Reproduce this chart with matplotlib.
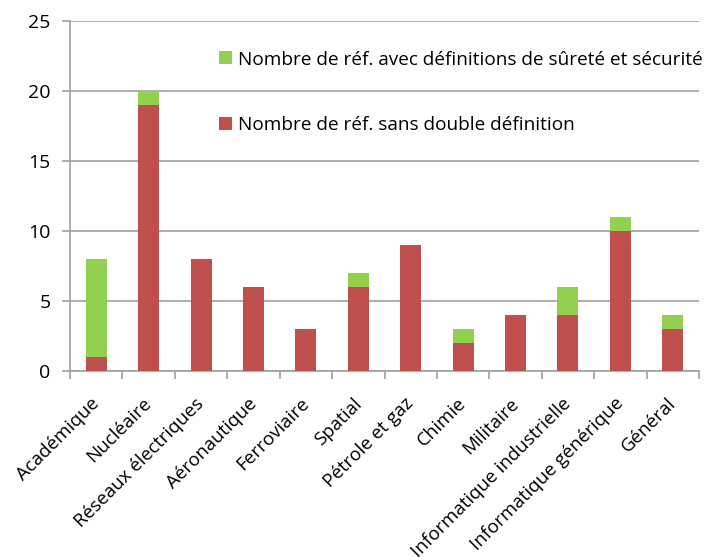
import numpy as np
import matplotlib
matplotlib.use("Agg")
import matplotlib.pyplot as plt
import matplotlib.transforms as mtransforms

categories = ["Académique", "Nucléaire", "Réseaux électriques", "Aéronautique",
              "Ferroviaire", "Spatial", "Pétrole et gaz", "Chimie", "Militaire",
              "Informatique industrielle", "Informatique générique", "Général"]
sans_double = [1, 19, 8, 6, 3, 6, 9, 2, 4, 4, 10, 3]
avec_def = [7, 1, 0, 0, 0, 1, 0, 1, 0, 2, 1, 1]
yticks = [0, 5, 10, 15, 20, 25]

plt.rcParams['font.family'] = ['Open Sans', 'DejaVu Sans']

fig = plt.figure(figsize=(7.07, 5.57), dpi=100)
ax = fig.add_axes([0.099, 0.334, 0.8897, 0.628])

x = np.arange(len(categories))
red = ax.bar(x, sans_double, width=0.4, color='#C0504D', zorder=3,
             label="Nombre de réf. sans double définition")
green = ax.bar(x, avec_def, width=0.4, bottom=sans_double, color='#92D050', zorder=3,
               label="Nombre de réf. avec définitions de sûreté et sécurité")

ax.set_xlim(-0.5, len(categories) - 0.5)
ax.set_ylim(0, 25)
ax.set_yticks(yticks)
ax.yaxis.grid(True, color='#A0A0A0', linewidth=1.2, zorder=0)
ax.tick_params(axis='y', labelsize=14, length=6, color='#A0A0A0', width=1.2, pad=8)

ax.set_xticks(x)
ax.set_xticklabels(categories, rotation=45, ha='right', rotation_mode='anchor', fontsize=13.5)
ax.tick_params(axis='x', length=0, pad=17)
ax.set_xticks(np.arange(len(categories) + 1) - 0.5, minor=True)
ax.tick_params(axis='x', which='minor', length=6, color='#A0A0A0', width=1.2)

# nudge the rotated labels a little to the left
shift = mtransforms.ScaledTranslation(-6 / 100, 0, fig.dpi_scale_trans)
for lbl in ax.get_xticklabels():
    lbl.set_transform(lbl.get_transform() + shift)

for s in ['top', 'right']:
    ax.spines[s].set_visible(False)
for s in ['left', 'bottom']:
    ax.spines[s].set_color('#A0A0A0')
    ax.spines[s].set_linewidth(1.2)

ax.legend(handles=[green, red], loc='upper left', bbox_to_anchor=(0.21, 0.965),
          frameon=False, fontsize=13.7, labelspacing=2.5, handlelength=0.65,
          handleheight=0.65, handletextpad=0.35)

fig.savefig("out.png", dpi=100)
